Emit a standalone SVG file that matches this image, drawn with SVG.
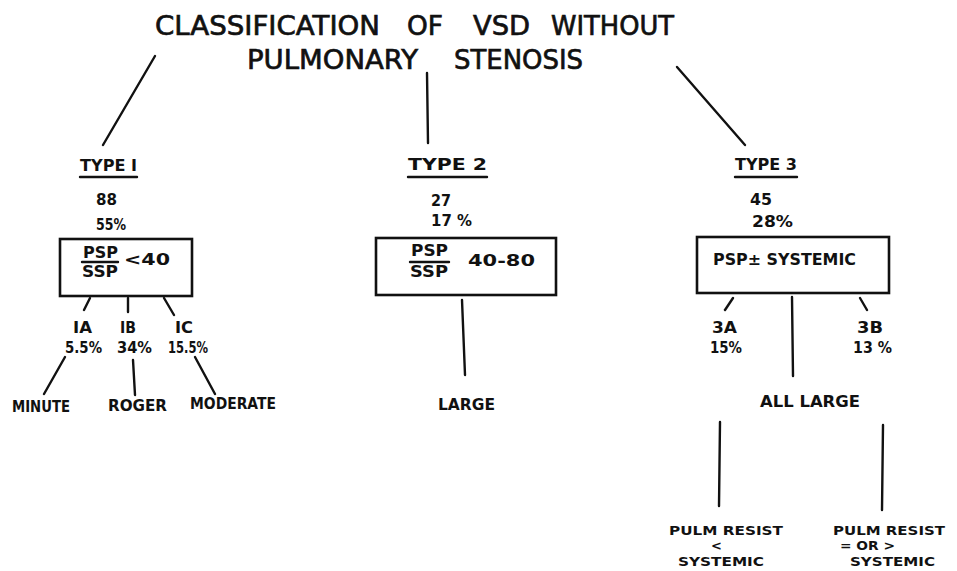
<svg xmlns="http://www.w3.org/2000/svg" width="957" height="571" viewBox="0 0 957 571">
<style>
text{font-family:"DejaVu Sans","Liberation Sans",sans-serif;font-weight:bold;fill:#111;font-size:15px}
.t{font-size:27px;font-weight:normal;font-family:"DejaVu Sans",sans-serif;stroke:#111;stroke-width:0.7}
.s{font-size:13px}
line,rect.b,path{stroke:#111;stroke-width:2.4;fill:none;stroke-linecap:round}
rect.b{stroke-width:2.6}
</style>
<rect x="0" y="0" width="957" height="571" fill="#fff"/>
<g id="title">
<text class="t" x="155" y="35" textLength="225" lengthAdjust="spacingAndGlyphs">CLASSIFICATION</text>
<text class="t" x="407" y="35" textLength="36" lengthAdjust="spacingAndGlyphs">OF</text>
<text class="t" x="473" y="35" textLength="57" lengthAdjust="spacingAndGlyphs">VSD</text>
<text class="t" x="551" y="35" textLength="123" lengthAdjust="spacingAndGlyphs">WITHOUT</text>
<text class="t" x="247" y="69" textLength="171" lengthAdjust="spacingAndGlyphs">PULMONARY</text>
<text class="t" x="454" y="69" textLength="129" lengthAdjust="spacingAndGlyphs">STENOSIS</text>
</g>
<g id="connectors">
<line x1="155" y1="56" x2="103" y2="145"/>
<line x1="427" y1="73" x2="428" y2="143"/>
<line x1="677" y1="67" x2="745" y2="145"/>
<line x1="90" y1="298" x2="84" y2="310"/>
<line x1="128" y1="298" x2="128" y2="312"/>
<line x1="164" y1="298" x2="174" y2="315"/>
<line x1="65" y1="357" x2="44" y2="394"/>
<line x1="133" y1="360" x2="135" y2="395"/>
<line x1="195" y1="357" x2="215" y2="394"/>
<line x1="462" y1="300" x2="465" y2="375"/>
<line x1="733" y1="298" x2="725" y2="310"/>
<line x1="792" y1="297" x2="793" y2="376"/>
<line x1="860" y1="298" x2="867" y2="310"/>
<line x1="720" y1="422" x2="719" y2="506"/>
<line x1="883" y1="425" x2="882" y2="510"/>
</g>
<g id="type1">
<text x="80" y="171" textLength="57" lengthAdjust="spacingAndGlyphs">TYPE I</text>
<line x1="80" y1="177" x2="137" y2="177" stroke-width="2"/>
<text x="96" y="205" textLength="21" lengthAdjust="spacingAndGlyphs">88</text>
<text x="96" y="230" textLength="30" lengthAdjust="spacingAndGlyphs">55%</text>
</g>
<g id="box1">
<rect class="b" x="60" y="239" width="132" height="57"/>
<text x="83" y="258" textLength="35" lengthAdjust="spacingAndGlyphs">PSP</text>
<line x1="82" y1="262" x2="118" y2="262" stroke-width="2"/>
<text x="82" y="277" textLength="36" lengthAdjust="spacingAndGlyphs">SSP</text>
<text x="124" y="265" font-size="18" font-weight="normal" textLength="46" lengthAdjust="spacingAndGlyphs">&lt;40</text>
</g>
<g id="sub1a">
<text x="73" y="333" textLength="19" lengthAdjust="spacingAndGlyphs">IA</text>
<text x="65" y="353" textLength="37" lengthAdjust="spacingAndGlyphs">5.5%</text>
</g>
<g id="sub1b">
<text x="120" y="333" textLength="16" lengthAdjust="spacingAndGlyphs">IB</text>
<text x="117" y="353" textLength="35" lengthAdjust="spacingAndGlyphs">34%</text>
</g>
<g id="sub1c">
<text x="175" y="333" textLength="18" lengthAdjust="spacingAndGlyphs">IC</text>
<text x="168" y="353" textLength="40" lengthAdjust="spacingAndGlyphs">15.5%</text>
</g>
<g id="minute"><text x="12" y="412" textLength="58" lengthAdjust="spacingAndGlyphs">MINUTE</text></g>
<g id="roger"><text x="108" y="411" textLength="59" lengthAdjust="spacingAndGlyphs">ROGER</text></g>
<g id="moderate"><text x="190" y="409" textLength="86" lengthAdjust="spacingAndGlyphs">MODERATE</text></g>
<g id="type2">
<text x="408" y="170" textLength="79" lengthAdjust="spacingAndGlyphs">TYPE  2</text>
<line x1="408" y1="177" x2="487" y2="177" stroke-width="2"/>
<text x="431" y="206" textLength="20" lengthAdjust="spacingAndGlyphs">27</text>
<text x="431" y="226" textLength="41" lengthAdjust="spacingAndGlyphs">17 %</text>
</g>
<g id="box2">
<rect class="b" x="376" y="238" width="180" height="57"/>
<text x="411" y="256" textLength="37" lengthAdjust="spacingAndGlyphs">PSP</text>
<line x1="410" y1="262" x2="449" y2="262" stroke-width="2"/>
<text x="410" y="277" textLength="38" lengthAdjust="spacingAndGlyphs">SSP</text>
<text x="468" y="266" textLength="67" lengthAdjust="spacingAndGlyphs">40-80</text>
</g>
<g id="large"><text x="438" y="410" textLength="57" lengthAdjust="spacingAndGlyphs">LARGE</text></g>
<g id="type3">
<text x="735" y="170" textLength="62" lengthAdjust="spacingAndGlyphs">TYPE 3</text>
<line x1="735" y1="177" x2="797" y2="177" stroke-width="2"/>
<text x="750" y="205" textLength="22" lengthAdjust="spacingAndGlyphs">45</text>
<text x="752" y="227" textLength="41" lengthAdjust="spacingAndGlyphs">28%</text>
</g>
<g id="box3">
<rect class="b" x="697" y="237" width="192" height="56"/>
<text x="713" y="265" textLength="143" lengthAdjust="spacingAndGlyphs">PSP± SYSTEMIC</text>
</g>
<g id="sub3a">
<text x="712" y="333" textLength="25" lengthAdjust="spacingAndGlyphs">3A</text>
<text x="710" y="353" textLength="32" lengthAdjust="spacingAndGlyphs">15%</text>
</g>
<g id="sub3b">
<text x="857" y="333" textLength="26" lengthAdjust="spacingAndGlyphs">3B</text>
<text x="853" y="353" textLength="39" lengthAdjust="spacingAndGlyphs">13 %</text>
</g>
<g id="alllarge"><text x="760" y="407" textLength="100" lengthAdjust="spacingAndGlyphs">ALL  LARGE</text></g>
<g id="resistless">
<text class="s" x="669" y="535" textLength="114" lengthAdjust="spacingAndGlyphs">PULM  RESIST</text>
<text class="s" x="711" y="550">&lt;</text>
<text class="s" x="678" y="566" textLength="86" lengthAdjust="spacingAndGlyphs">SYSTEMIC</text>
</g>
<g id="resistmore">
<text class="s" x="833" y="535" textLength="112" lengthAdjust="spacingAndGlyphs">PULM  RESIST</text>
<text class="s" x="840" y="550" textLength="55" lengthAdjust="spacingAndGlyphs">= OR &gt;</text>
<text class="s" x="850" y="566" textLength="85" lengthAdjust="spacingAndGlyphs">SYSTEMIC</text>
</g>
</svg>
